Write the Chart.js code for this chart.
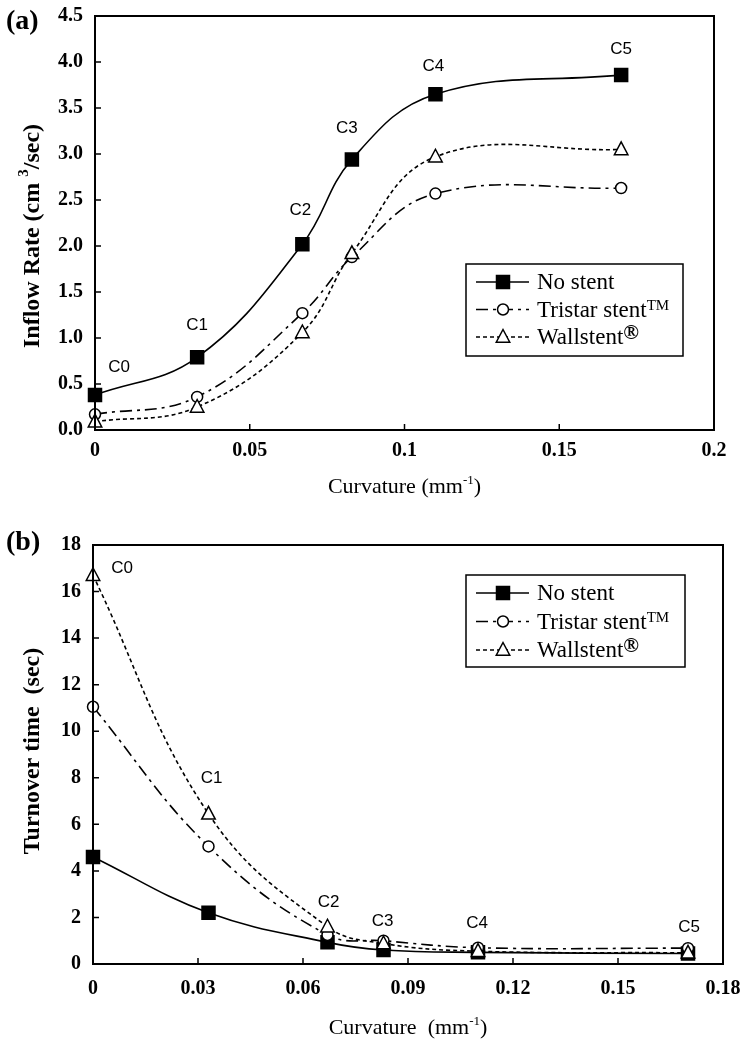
<!DOCTYPE html>
<html lang="en">
<head>
  <meta charset="UTF-8">
  <title>Inflow rate and turnover time vs curvature</title>
  <script src="https://cdn.jsdelivr.net/npm/chart.js"></script>
  <style>
    body { margin: 0; background: #fff; }
    .panel { position: absolute; left: 0; width: 748px; }
  </style>
</head>
<body>
  <!-- (a) Inflow rate -->
  <div class="panel" style="top:0;height:515px"><canvas id="chartA" width="748" height="515"></canvas></div>
  <!-- (b) Turnover time -->
  <div class="panel" style="top:515px;height:535px"><canvas id="chartB" width="748" height="535"></canvas></div>

  <script>
    // data
    const curvature = [0, 0.033, 0.067, 0.083, 0.11, 0.17];
    const caseLabels = ['C0', 'C1', 'C2', 'C3', 'C4', 'C5'];
    const seriesNames = ['No stent', 'Tristar stent', 'Wallstent'];

    const inflowNoStent = [0.38, 0.79, 2.02, 2.94, 3.65, 3.86];
    const inflowTristar = [0.17, 0.36, 1.27, 1.88, 2.57, 2.63];
    const inflowWallstent = [0.09, 0.25, 1.06, 1.92, 2.97, 3.05];

    const turnoverNoStent = [4.6, 2.2, 0.93, 0.6, 0.5, 0.45];
    const turnoverTristar = [11.05, 5.05, 1.25, 1.0, 0.7, 0.68];
    const turnoverWallstent = [16.7, 6.45, 1.6, 0.88, 0.55, 0.48];

    const xTicksA = [0, 0.05, 0.1, 0.15, 0.2];
    const xTickLabelsA = ['0', '0.05', '0.1', '0.15', '0.2'];
    const yTicksA = [0, 0.5, 1, 1.5, 2, 2.5, 3, 3.5, 4, 4.5];
    const yTickLabelsA = ['0.0', '0.5', '1.0', '1.5', '2.0', '2.5', '3.0', '3.5', '4.0', '4.5'];

    const xTicksB = [0, 0.03, 0.06, 0.09, 0.12, 0.15, 0.18];
    const xTickLabelsB = ['0', '0.03', '0.06', '0.09', '0.12', '0.15', '0.18'];
    const yTicksB = [0, 2, 4, 6, 8, 10, 12, 14, 16, 18];
    const yTickLabelsB = ['0', '2', '4', '6', '8', '10', '12', '14', '16', '18'];

    const SERIF = '"Liberation Serif", "Times New Roman", serif';
    const SANS = '"Liberation Sans", Arial, sans-serif';

    // line / marker look of the three series
    const styles = [
      { dash: [], marker: 'square', fill: '#000', size: 6.5 },
      { dash: [12, 5, 3, 5], marker: 'circle', fill: '#fff', size: 5.5 },
      { dash: [4, 3], marker: 'triangle', fill: '#fff', size: 7.5 }
    ];

    function toPoints(ys) {
      return curvature.map((x, i) => ({ x: x, y: ys[i] }));
    }

    function drawMarker(ctx, type, x, y, s, fill) {
      ctx.save();
      ctx.setLineDash([]);
      ctx.lineWidth = 1.5;
      ctx.strokeStyle = '#000';
      ctx.fillStyle = fill;
      ctx.beginPath();
      if (type === 'square') {
        ctx.rect(x - s, y - s, 2 * s, 2 * s);
      } else if (type === 'circle') {
        ctx.arc(x, y, s, 0, Math.PI * 2);
      } else {
        ctx.moveTo(x, y - s);
        ctx.lineTo(x + s * 0.9, y + s * 0.7);
        ctx.lineTo(x - s * 0.9, y + s * 0.7);
        ctx.closePath();
      }
      ctx.fill();
      ctx.stroke();
      ctx.restore();
    }

    // text made of pieces (for superscripts)
    function drawRich(ctx, parts, x, y, align) {
      let w = 0;
      parts.forEach(p => { ctx.font = p.font; p.w = ctx.measureText(p.text).width; w += p.w; });
      let cx = align === 'center' ? x - w / 2 : x;
      ctx.textAlign = 'left';
      ctx.textBaseline = 'alphabetic';
      parts.forEach(p => { ctx.font = p.font; ctx.fillText(p.text, cx, y + (p.dy || 0)); cx += p.w; });
    }

    function makeChart(id, cfg) {
      const datasets = cfg.series.map((ys, i) => ({
        label: seriesNames[i],
        data: toPoints(ys),
        showLine: true,
        tension: 0.4,
        borderColor: '#000',
        borderWidth: 1.6,
        borderDash: styles[i].dash,
        pointRadius: 0,
        clip: false,
        order: 2 - i
      }));

      const decor = {
        id: 'decor',
        afterDatasetsDraw(chart) {
          const ctx = chart.ctx;
          const xs = chart.scales.x, ys = chart.scales.y;
          // markers on top of the lines
          cfg.series.forEach((vals, si) => {
            vals.forEach((v, i) => {
              drawMarker(ctx, styles[si].marker, xs.getPixelForValue(curvature[i]), ys.getPixelForValue(v), styles[si].size, styles[si].fill);
            });
          });
        },
        afterDraw(chart) {
          const ctx = chart.ctx;
          const ca = chart.chartArea;
          const xs = chart.scales.x, ys = chart.scales.y;
          ctx.save();
          ctx.strokeStyle = '#000';
          ctx.fillStyle = '#000';
          ctx.setLineDash([]);

          // plot frame
          ctx.lineWidth = 2;
          ctx.strokeRect(ca.left, ca.top, ca.right - ca.left, ca.bottom - ca.top);

          // inward tick marks
          ctx.lineWidth = 1.5;
          ctx.beginPath();
          cfg.xTicks.forEach(v => {
            const px = xs.getPixelForValue(v);
            ctx.moveTo(px, ca.bottom); ctx.lineTo(px, ca.bottom - 6);
          });
          cfg.yTicks.forEach(v => {
            const py = ys.getPixelForValue(v);
            ctx.moveTo(ca.left, py); ctx.lineTo(ca.left + 6, py);
          });
          ctx.stroke();

          // case labels C0..C5
          ctx.font = '17px ' + SANS;
          ctx.textAlign = 'center';
          ctx.textBaseline = 'middle';
          caseLabels.forEach((lab, i) => {
            const top = Math.max(...cfg.series.map(s => s[i]));
            const anchor = cfg.anchorSeries === null ? top : cfg.series[cfg.anchorSeries][i];
            const off = cfg.labelOffsets[i];
            ctx.fillText(lab, xs.getPixelForValue(curvature[i]) + off[0], ys.getPixelForValue(anchor) + off[1]);
          });

          // legend box
          const lg = cfg.legend;
          const lx = ca.left + lg.dx, ly = ca.top + lg.dy;
          ctx.fillStyle = '#fff';
          ctx.fillRect(lx, ly, lg.w, lg.h);
          ctx.lineWidth = 1.5;
          ctx.strokeRect(lx, ly, lg.w, lg.h);
          ctx.fillStyle = '#000';
          const legFont = '23px ' + SERIF;
          seriesNames.forEach((name, i) => {
            const ry = ly + lg.rowTop + i * lg.rowGap;
            ctx.lineWidth = 1.6;
            ctx.setLineDash(styles[i].dash);
            ctx.beginPath();
            ctx.moveTo(lx + 10, ry); ctx.lineTo(lx + 63, ry);
            ctx.stroke();
            ctx.setLineDash([]);
            drawMarker(ctx, styles[i].marker, lx + 37, ry, styles[i].size, styles[i].fill);
            const parts = [{ text: name, font: legFont }];
            if (i === 1) parts.push({ text: 'TM', font: '15px ' + SERIF, dy: -7 });
            if (i === 2) parts.push({ text: '\u00AE', font: 'bold 21px ' + SERIF, dy: -5 });
            drawRich(ctx, parts, lx + 71, ry + 7, 'left');
          });

          // x axis title
          const cx = (ca.left + ca.right) / 2;
          drawRich(ctx, [
            { text: cfg.xTitle, font: '22px ' + SERIF },
            { text: '-1', font: '13px ' + SERIF, dy: -9 },
            { text: ')', font: '22px ' + SERIF }
          ], cx, cfg.xTitleY + 7, 'center');

          // y axis title
          ctx.save();
          ctx.translate(31, cfg.yTitleY);
          ctx.rotate(-Math.PI / 2);
          drawRich(ctx, cfg.yTitle, 0, 8, 'center');
          ctx.restore();

          // panel letter
          ctx.font = 'bold 28px ' + SERIF;
          ctx.textAlign = 'left';
          ctx.textBaseline = 'middle';
          ctx.fillText(cfg.panel, 6, cfg.panelY);
          ctx.restore();
        }
      };

      const tickFont = { family: SERIF, size: 20, weight: 'bold' };

      return new Chart(document.getElementById(id), {
        type: 'scatter',
        data: { datasets: datasets },
        options: {
          responsive: false,
          animation: false,
          events: [],
          layout: { padding: cfg.padding },
          plugins: { legend: { display: false }, tooltip: { enabled: false } },
          scales: {
            x: {
              type: 'linear', min: 0, max: cfg.xTicks[cfg.xTicks.length - 1],
              afterBuildTicks: s => { s.ticks = cfg.xTicks.map(v => ({ value: v })); },
              afterFit: s => { s.height = cfg.xHeight; s.paddingLeft = 0; s.paddingRight = 0; },
              grid: { display: false, drawTicks: false },
              border: { display: false },
              ticks: { color: '#000', font: tickFont, padding: cfg.xPad, maxRotation: 0, autoSkip: false,
                callback: (v, i) => cfg.xLabels[i] }
            },
            y: {
              type: 'linear', min: 0, max: cfg.yTicks[cfg.yTicks.length - 1],
              afterBuildTicks: s => { s.ticks = cfg.yTicks.map(v => ({ value: v })); },
              afterFit: s => { s.width = cfg.yWidth; s.paddingTop = 0; s.paddingBottom = 0; },
              grid: { display: false, drawTicks: false },
              border: { display: false },
              ticks: { color: '#000', font: tickFont, padding: 12, autoSkip: false,
                callback: (v, i) => cfg.yLabels[i] }
            }
          }
        },
        plugins: [decor]
      });
    }

    makeChart('chartA', {
      series: [inflowNoStent, inflowTristar, inflowWallstent],
      xTicks: xTicksA, xLabels: xTickLabelsA,
      yTicks: yTicksA, yLabels: yTickLabelsA,
      padding: { top: 16, right: 34, left: 0, bottom: 0 },
      yWidth: 95, xHeight: 85, xPad: 9,
      anchorSeries: 0,
      labelOffsets: [[24, -28], [0, -32], [-2, -34], [-5, -31], [-2, -28], [0, -26]],
      legend: { dx: 371, dy: 248, w: 217, h: 92, rowTop: 18, rowGap: 27.5 },
      xTitle: 'Curvature (mm',
      xTitleY: 486,
      yTitle: [
        { text: 'Inflow Rate (cm ', font: 'bold 24px ' + SERIF },
        { text: '3', font: 'bold 15px ' + SERIF, dy: -11 },
        { text: '/sec)', font: 'bold 24px ' + SERIF }
      ],
      yTitleY: 236,
      panel: '(a)', panelY: 22
    });

    makeChart('chartB', {
      series: [turnoverNoStent, turnoverTristar, turnoverWallstent],
      xTicks: xTicksB, xLabels: xTickLabelsB,
      yTicks: yTicksB, yLabels: yTickLabelsB,
      padding: { top: 30, right: 25, left: 0, bottom: 0 },
      yWidth: 93, xHeight: 86, xPad: 13,
      anchorSeries: null,
      labelOffsets: [[29, -7], [3, -36], [1, -24], [-1, -19], [-1, -24], [1, -21]],
      legend: { dx: 373, dy: 30, w: 219, h: 92, rowTop: 18, rowGap: 28.5 },
      xTitle: 'Curvature  (mm',
      xTitleY: 512,
      yTitle: [
        { text: 'Turnover time  (sec)', font: 'bold 24px ' + SERIF }
      ],
      yTitleY: 236,
      panel: '(b)', panelY: 28
    });
  </script>
</body>
</html>
